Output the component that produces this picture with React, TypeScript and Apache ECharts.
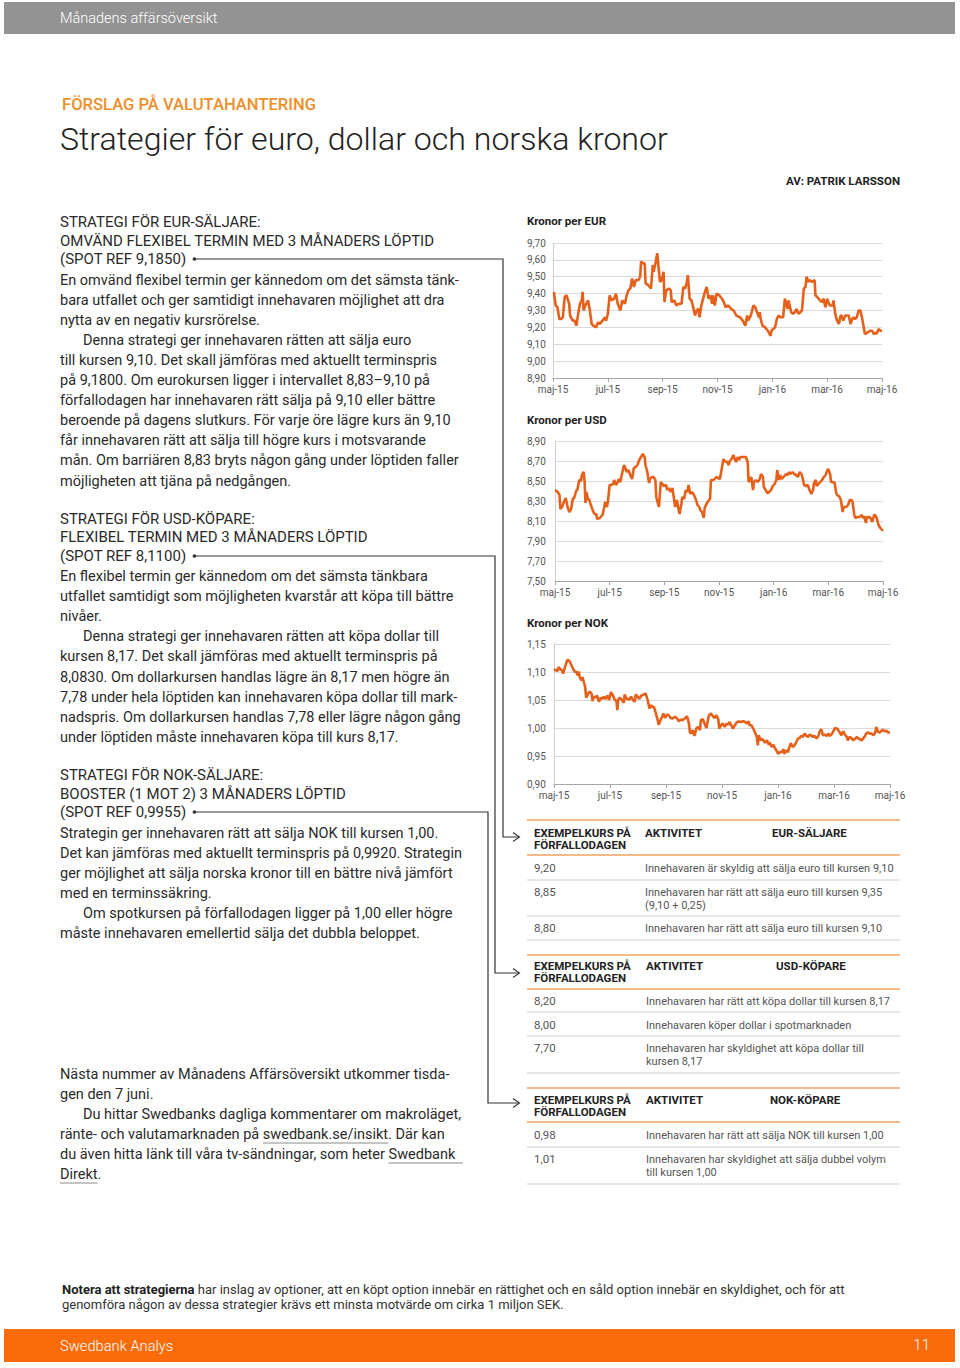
import React, { useEffect, useRef } from "react";
import * as echarts from "echarts";

const FONT = 'Roboto, "Noto Sans", sans-serif';

// ---------- DATA ----------
const monthLabels = ["maj-15", "jul-15", "sep-15", "nov-15", "jan-16", "mar-16", "maj-16"];

const eurDays = [1,3,5,7,9,11,13,15,18,19,22,24,26,28,30,32,33,34,36,39,41,43,45,48,50,52,55,58,59,61,63,65,68,70,72,75,77,80,82,84,86,88,90,92,95,97,98,100,102,103,106,109,111,112,114,116,117,119,121,123,124,126,129,131,132,135,137,140,143,145,147,149,150,152,154,156,158,160,162,163,165,167,169,171,173,175,177,178,180,182,185,188,190,192,195,198,201,204,208,211,214,216,217,220,223,225,227,229,230,231,233,236,239,242,243,245,247,249,251,253,256,258,259,261,262,265,267,269,271,273,275,277,279,281,282,284,286,288,291,292,294,297,299,301,303,305,307,308,311,312,314,316,318,320,321,323,325,327,329,331,333,334,336,338,340,342,344,346,347,350,353,355,357,359,360,362,364,366];
const eurValues = [9.41,9.33,9.32,9.25,9.25,9.26,9.38,9.39,9.34,9.27,9.24,9.24,9.21,9.28,9.34,9.36,9.41,9.30,9.33,9.36,9.30,9.22,9.21,9.20,9.23,9.22,9.24,9.26,9.24,9.28,9.39,9.36,9.37,9.40,9.34,9.30,9.36,9.34,9.39,9.42,9.43,9.49,9.44,9.48,9.48,9.50,9.59,9.58,9.58,9.46,9.45,9.43,9.57,9.53,9.58,9.64,9.58,9.47,9.48,9.53,9.35,9.42,9.43,9.42,9.35,9.36,9.33,9.34,9.34,9.44,9.43,9.47,9.51,9.37,9.36,9.32,9.27,9.30,9.31,9.26,9.33,9.37,9.41,9.44,9.37,9.39,9.34,9.39,9.33,9.40,9.39,9.37,9.35,9.32,9.33,9.31,9.30,9.27,9.26,9.24,9.21,9.27,9.24,9.27,9.33,9.32,9.29,9.26,9.29,9.25,9.21,9.20,9.18,9.15,9.18,9.19,9.20,9.25,9.27,9.26,9.26,9.37,9.35,9.31,9.36,9.29,9.28,9.29,9.31,9.28,9.29,9.30,9.43,9.44,9.50,9.47,9.48,9.47,9.48,9.39,9.38,9.36,9.35,9.37,9.32,9.37,9.34,9.33,9.33,9.36,9.28,9.24,9.22,9.27,9.27,9.24,9.27,9.27,9.27,9.22,9.25,9.26,9.25,9.26,9.30,9.30,9.25,9.19,9.16,9.17,9.18,9.18,9.16,9.17,9.16,9.19,9.18,9.18];

const usdDays = [0,3,5,6,8,9,11,12,14,16,18,20,21,24,25,27,29,30,32,33,34,35,37,38,40,42,44,46,47,50,52,53,55,56,58,59,61,62,65,66,68,70,71,73,74,77,78,80,82,84,86,88,90,92,94,96,98,100,101,103,105,106,108,110,112,113,115,116,118,120,121,124,125,127,129,131,133,134,136,138,139,141,142,144,146,148,149,151,153,155,157,159,161,162,164,166,167,169,171,173,174,177,178,180,182,184,186,188,189,192,194,195,197,199,201,202,204,205,207,209,211,213,215,216,218,219,221,222,224,226,228,230,232,233,235,237,239,241,243,245,247,248,250,251,253,255,258,260,261,263,265,267,269,271,273,275,276,278,280,282,284,286,288,289,291,292,294,296,298,300,302,304,305,307,308,310,312,314,316,317,319,321,322,324,325,327,329,331,332,334,335,337,340,342,344,345,347,348,350,352,354,356,357,359,361,363,366];
const usdValues = [8.41,8.39,8.36,8.22,8.24,8.27,8.31,8.33,8.24,8.19,8.22,8.33,8.32,8.41,8.41,8.51,8.50,8.56,8.59,8.50,8.28,8.39,8.31,8.32,8.26,8.21,8.17,8.17,8.12,8.13,8.15,8.16,8.24,8.29,8.24,8.29,8.46,8.46,8.47,8.51,8.46,8.49,8.52,8.49,8.54,8.66,8.64,8.59,8.61,8.56,8.52,8.63,8.64,8.66,8.71,8.74,8.77,8.74,8.66,8.59,8.48,8.52,8.54,8.54,8.51,8.34,8.27,8.24,8.49,8.47,8.45,8.46,8.41,8.43,8.39,8.43,8.31,8.24,8.31,8.21,8.17,8.27,8.34,8.32,8.41,8.39,8.46,8.37,8.39,8.36,8.32,8.26,8.24,8.21,8.19,8.13,8.23,8.27,8.30,8.32,8.51,8.51,8.52,8.54,8.53,8.52,8.62,8.72,8.70,8.69,8.66,8.70,8.72,8.76,8.71,8.69,8.74,8.71,8.74,8.74,8.74,8.74,8.69,8.49,8.52,8.54,8.41,8.49,8.51,8.49,8.51,8.57,8.54,8.44,8.41,8.38,8.39,8.41,8.45,8.47,8.51,8.61,8.51,8.56,8.52,8.54,8.57,8.56,8.59,8.57,8.59,8.57,8.56,8.54,8.59,8.57,8.54,8.46,8.45,8.46,8.41,8.37,8.41,8.48,8.51,8.45,8.47,8.49,8.51,8.54,8.56,8.61,8.62,8.57,8.49,8.49,8.48,8.37,8.35,8.35,8.31,8.19,8.24,8.24,8.24,8.26,8.31,8.31,8.29,8.16,8.13,8.14,8.14,8.16,8.13,8.15,8.08,8.14,8.14,8.13,8.09,8.16,8.16,8.13,8.06,8.03,8.00];

const nokDays = [0,2,4,5,7,9,10,12,14,15,17,19,21,23,24,26,27,28,30,31,33,34,35,37,39,41,42,43,45,47,49,51,53,54,56,58,60,62,64,66,68,69,70,72,74,76,77,79,81,82,84,86,88,89,91,93,95,97,99,100,102,104,106,107,109,111,113,114,116,118,119,121,123,125,127,129,130,132,134,136,138,140,141,143,145,147,148,149,151,153,155,157,159,160,162,164,166,168,169,171,173,175,177,179,180,182,184,186,188,190,191,193,195,197,199,201,202,204,206,208,210,212,213,215,217,219,221,222,223,225,226,228,230,232,234,235,237,239,241,243,244,246,248,250,251,253,255,256,258,260,262,264,266,267,269,271,273,275,277,278,280,282,284,286,288,289,291,293,295,297,299,300,302,304,306,308,309,311,313,315,317,319,320,322,324,326,328,330,331,333,335,337,339,340,342,344,346,348,350,351,353,355,356,358,360,362,364,366];
const nokValues = [1.105,1.103,1.102,1.109,1.105,1.102,1.097,1.109,1.119,1.122,1.119,1.112,1.105,1.100,1.101,1.094,1.101,1.091,1.085,1.091,1.079,1.073,1.054,1.061,1.065,1.061,1.048,1.056,1.054,1.058,1.047,1.054,1.052,1.056,1.052,1.058,1.050,1.064,1.059,1.051,1.048,1.032,1.051,1.054,1.050,1.045,1.060,1.052,1.052,1.050,1.056,1.050,1.047,1.060,1.056,1.052,1.058,1.059,1.061,1.061,1.050,1.035,1.041,1.038,1.037,1.026,1.014,1.006,1.014,1.021,1.026,1.018,1.024,1.023,1.018,1.017,1.018,1.020,1.017,1.012,1.015,1.014,1.015,1.018,1.021,1.008,0.993,0.990,0.996,0.986,0.999,1.002,0.996,1.014,1.016,1.008,1.000,1.017,1.023,1.026,1.021,1.018,1.023,1.015,0.999,1.005,1.008,1.002,1.008,1.006,1.011,1.005,0.999,1.005,1.010,1.012,1.011,1.011,1.012,1.011,1.008,1.012,1.005,1.005,0.999,0.992,0.984,0.969,0.987,0.978,0.981,0.978,0.974,0.978,0.970,0.974,0.966,0.970,0.963,0.958,0.954,0.957,0.957,0.962,0.954,0.960,0.957,0.964,0.973,0.966,0.969,0.975,0.982,0.981,0.986,0.984,0.990,0.986,0.984,0.988,0.987,0.984,0.986,0.981,0.986,0.992,0.998,0.987,0.988,0.986,0.990,0.986,0.988,0.993,1.000,0.999,0.998,0.993,0.987,0.994,0.988,0.984,0.978,0.984,0.982,0.978,0.981,0.984,0.982,0.980,0.978,0.982,0.986,0.990,0.992,0.990,0.990,0.987,0.992,1.002,0.993,0.992,0.994,0.997,0.994,0.995,0.992,0.992];

const chartTitles = ["Kronor per EUR", "Kronor per USD", "Kronor per NOK"];
const yMins = [8.9, 7.5, 0.9];
const yMaxs = [9.7, 8.9, 1.15];
const yIntervals = [0.1, 0.2, 0.05];

// ---------- TEXT CONTENT ----------
const leftLines: { y: number; t: string; k: "h" | "b"; ind?: boolean }[] = [
  { y: 222, t: "STRATEGI FÖR EUR-SÄLJARE:", k: "h" },
  { y: 241, t: "OMVÄND FLEXIBEL TERMIN MED 3 MÅNADERS LÖPTID", k: "h" },
  { y: 259, t: "(SPOT REF 9,1850)", k: "h" },
  { y: 280, t: "En omvänd flexibel termin ger kännedom om det sämsta tänk-", k: "b" },
  { y: 300, t: "bara utfallet och ger samtidigt innehavaren möjlighet att dra", k: "b" },
  { y: 320, t: "nytta av en negativ kursrörelse.", k: "b" },
  { y: 340, t: "Denna strategi ger innehavaren rätten att sälja euro", k: "b", ind: true },
  { y: 360, t: "till kursen 9,10. Det skall jämföras med aktuellt terminspris", k: "b" },
  { y: 380, t: "på 9,1800. Om eurokursen ligger i intervallet 8,83–9,10 på", k: "b" },
  { y: 400, t: "förfallodagen har innehavaren rätt sälja på 9,10 eller bättre", k: "b" },
  { y: 420, t: "beroende på dagens slutkurs. För varje öre lägre kurs än 9,10", k: "b" },
  { y: 440, t: "får innehavaren rätt att sälja till högre kurs i motsvarande", k: "b" },
  { y: 460, t: "mån. Om barriären 8,83 bryts någon gång under löptiden faller", k: "b" },
  { y: 481, t: "möjligheten att tjäna på nedgången.", k: "b" },
  { y: 519, t: "STRATEGI FÖR USD-KÖPARE:", k: "h" },
  { y: 537, t: "FLEXIBEL TERMIN MED 3 MÅNADERS LÖPTID", k: "h" },
  { y: 556, t: "(SPOT REF 8,1100)", k: "h" },
  { y: 576, t: "En flexibel termin ger kännedom om det sämsta tänkbara", k: "b" },
  { y: 596, t: "utfallet samtidigt som möjligheten kvarstår att köpa till bättre", k: "b" },
  { y: 616, t: "nivåer.", k: "b" },
  { y: 636, t: "Denna strategi ger innehavaren rätten att köpa dollar till", k: "b", ind: true },
  { y: 656, t: "kursen 8,17. Det skall jämföras med aktuellt terminspris på", k: "b" },
  { y: 677, t: "8,0830. Om dollarkursen handlas lägre än 8,17 men högre än", k: "b" },
  { y: 697, t: "7,78 under hela löptiden kan innehavaren köpa dollar till mark-", k: "b" },
  { y: 717, t: "nadspris. Om dollarkursen handlas 7,78 eller lägre någon gång", k: "b" },
  { y: 737, t: "under löptiden måste innehavaren köpa till kurs 8,17.", k: "b" },
  { y: 775, t: "STRATEGI FÖR NOK-SÄLJARE:", k: "h" },
  { y: 794, t: "BOOSTER (1 MOT 2) 3 MÅNADERS LÖPTID", k: "h" },
  { y: 812, t: "(SPOT REF 0,9955)", k: "h" },
  { y: 833, t: "Strategin ger innehavaren rätt att sälja NOK till kursen 1,00.", k: "b" },
  { y: 853, t: "Det kan jämföras med aktuellt terminspris på 0,9920. Strategin", k: "b" },
  { y: 873, t: "ger möjlighet att sälja norska kronor till en bättre nivå jämfört", k: "b" },
  { y: 893, t: "med en terminssäkring.", k: "b" },
  { y: 913, t: "Om spotkursen på förfallodagen ligger på 1,00 eller högre", k: "b", ind: true },
  { y: 933, t: "måste innehavaren emellertid sälja det dubbla beloppet.", k: "b" },
  { y: 1074, t: "Nästa nummer av Månadens Affärsöversikt utkommer tisda-", k: "b" },
  { y: 1094, t: "gen den 7 juni.", k: "b" },
  { y: 1114, t: "Du hittar Swedbanks dagliga kommentarer om makroläget,", k: "b", ind: true },
  { y: 1134, t: "ränte- och valutamarknaden på swedbank.se/insikt. Där kan", k: "b" },
  { y: 1154, t: "du även hitta länk till våra tv-sändningar, som heter Swedbank ", k: "b" },
  { y: 1174, t: "Direkt.", k: "b" },
];

const tables = [
  {
    title: "EUR-SÄLJARE", titleX: 772, actX: 645, top: 820, headY: 833, headLine: 855,
    rows: [
      { y: 868, ex: "9,20", lines: ["Innehavaren är skyldig att sälja euro till kursen 9,10"], line: 880 },
      { y: 892, ex: "8,85", lines: ["Innehavaren har rätt att sälja euro till kursen 9,35", "(9,10 + 0,25)"], line: 916 },
      { y: 928, ex: "8,80", lines: ["Innehavaren har rätt att sälja euro till kursen 9,10"], line: 940 },
    ],
  },
  {
    title: "USD-KÖPARE", titleX: 776, actX: 646, top: 955, headY: 966, headLine: 989,
    rows: [
      { y: 1001, ex: "8,20", lines: ["Innehavaren har rätt att köpa dollar till kursen 8,17"], line: 1012 },
      { y: 1025, ex: "8,00", lines: ["Innehavaren köper dollar i spotmarknaden"], line: 1036 },
      { y: 1048, ex: "7,70", lines: ["Innehavaren har skyldighet att köpa dollar till", "kursen 8,17"], line: 1073 },
    ],
  },
  {
    title: "NOK-KÖPARE", titleX: 770, actX: 646, top: 1088, headY: 1100, headLine: 1122,
    rows: [
      { y: 1135, ex: "0,98", lines: ["Innehavaren har rätt att sälja NOK till kursen 1,00"], line: 1147 },
      { y: 1159, ex: "1,01", lines: ["Innehavaren har skyldighet att sälja dubbel volym", "till kursen 1,00"], line: 1184 },
    ],
  },
];

// ---------- HELPERS ----------
let measureCtx: CanvasRenderingContext2D | null = null;
function measure(text: string, size: number, weight: number | string = 400) {
  if (!measureCtx) measureCtx = document.createElement("canvas").getContext("2d");
  measureCtx!.font = `${weight} ${size}px ${FONT}`;
  return measureCtx!.measureText(text).width;
}

function T(x: number, y: number, text: string, size: number, o: any = {}) {
  return {
    type: "text", x, y, silent: true, z: 10,
    style: {
      text, fill: o.fill || "#333", fontSize: size, fontFamily: FONT,
      fontWeight: o.weight || 400, textAlign: o.align || "left", textVerticalAlign: "middle",
    },
  };
}
function L(x1: number, y1: number, x2: number, y2: number, color: string, w = 1) {
  return { type: "line", silent: true, z: 5, shape: { x1, y1, x2, y2 }, style: { stroke: color, lineWidth: w } };
}

const fmt = (v: number) => v.toFixed(2).replace(".", ",");

export default function App() {
  const ref = useRef<HTMLDivElement>(null);
  useEffect(() => {
    document.body.style.margin = "0";
    const chart = echarts.init(ref.current!, null, { renderer: "svg" });

    const BODY = 14.5, HEAD = 15;
    const g: any[] = [];
    // header bar
    g.push({ type: "rect", silent: true, shape: { x: 4, y: 2, width: 951, height: 32 }, style: { fill: "#939393" } });
    g.push(T(60, 18, "Månadens affärsöversikt", 14.5, { fill: "#fff", weight: 300 }));
    g.push(T(62, 104, "FÖRSLAG PÅ VALUTAHANTERING", 16.6, { fill: "#ee8e2a", weight: 500 }));
    g.push(T(60, 139, "Strategier för euro, dollar och norska kronor", 32.1, { fill: "#222", weight: 300 }));
    g.push(T(900, 181, "AV: PATRIK LARSSON", 11.5, { fill: "#222", weight: 700, align: "right" }));

    leftLines.forEach((l) => {
      const size = l.k === "h" ? HEAD : BODY;
      g.push(T(l.ind ? 83 : 60, l.y, l.t, size, { fill: "#2a2a2a" }));
    });

    // underlines for links
    const ulY1 = 1134 + 9;
    const pre1 = measure("ränte- och valutamarknaden på ", BODY);
    const w1 = measure("swedbank.se/insikt", BODY);
    g.push(L(60 + pre1, ulY1, 60 + pre1 + w1, ulY1, "#8a8a8a", 1));
    const pre2 = measure("du även hitta länk till våra tv-sändningar, som heter ", BODY);
    const w2 = measure("Swedbank ", BODY);
    g.push(L(60 + pre2, 1154 + 9, 60 + pre2 + w2 + 4, 1154 + 9, "#8a8a8a", 1));
    const w3 = measure("Direkt", BODY);
    g.push(L(60, 1174 + 9, 60 + w3, 1174 + 9, "#8a8a8a", 1));

    // connectors
    const conns = [
      { y: 259, text: "(SPOT REF 9,1850)", vx: 503, ay: 837 },
      { y: 556, text: "(SPOT REF 8,1100)", vx: 495, ay: 973 },
      { y: 812, text: "(SPOT REF 0,9955)", vx: 488, ay: 1103 },
    ];
    conns.forEach((c) => {
      const dx = 60 + measure(c.text, HEAD) + 8;
      g.push({ type: "circle", silent: true, shape: { cx: dx, cy: c.y, r: 1.8 }, style: { fill: "#333" } });
      g.push({ type: "polyline", silent: true, shape: { points: [[dx, c.y], [c.vx, c.y], [c.vx, c.ay], [519, c.ay]] }, style: { stroke: "#333", lineWidth: 1.2, fill: null } });
      g.push({ type: "polyline", silent: true, shape: { points: [[513, c.ay - 4.5], [519.5, c.ay], [513, c.ay + 4.5]] }, style: { stroke: "#333", lineWidth: 1.1, fill: null } });
    });

    // tables
    const ORANGE = "#f0a262", GRAY = "#cdcdcd";
    tables.forEach((tb) => {
      g.push(L(527, tb.top, 900, tb.top, ORANGE, 1.3));
      g.push(T(534, tb.headY, "EXEMPELKURS PÅ", 11.5, { fill: "#222", weight: 700 }));
      g.push(T(534, tb.headY + 12, "FÖRFALLODAGEN", 11.5, { fill: "#222", weight: 700 }));
      g.push(T(tb.actX, tb.headY, "AKTIVITET", 11.5, { fill: "#222", weight: 700 }));
      g.push(T(tb.titleX, tb.headY, tb.title, 11.5, { fill: "#222", weight: 700 }));
      g.push(L(527, tb.headLine, 900, tb.headLine, ORANGE, 1.3));
      tb.rows.forEach((r) => {
        g.push(T(534, r.y, r.ex, 11.5, { fill: "#555" }));
        r.lines.forEach((ln, i) => g.push(T(tb.actX, r.y + i * 13, ln, 11, { fill: "#555" })));
        g.push(L(527, r.line, 900, r.line, GRAY, 1));
      });
    });

    // footer
    const boldPart = "Notera att strategierna";
    const FS = 13;
    g.push(T(62, 1289, boldPart, FS, { fill: "#222", weight: 700 }));
    g.push(T(62 + measure(boldPart + " ", FS, 700), 1289, "har inslag av optioner, att en köpt option innebär en rättighet och en såld option innebär en skyldighet, och för att", FS, { fill: "#333" }));
    g.push(T(62, 1304, "genomföra någon av dessa strategier krävs ett minsta motvärde om cirka 1 miljon SEK.", FS, { fill: "#333" }));
    g.push({ type: "rect", silent: true, shape: { x: 4, y: 1329, width: 951, height: 33 }, style: { fill: "#fa6b0a" } });
    g.push(T(60, 1346, "Swedbank Analys", 14.7, { fill: "#fff", weight: 300 }));
    g.push(T(930, 1345, "11", 15, { fill: "#fff", weight: 300, align: "right" }));

    // chart titles
    const titleYs = [221, 420, 623];
    chartTitles.forEach((t, i) => g.push(T(527, titleYs[i], t, 11.5, { fill: "#222", weight: 700 })));

    // chart grids
    const grids = [
      { left: 553, right: 960 - 882, top: 243, bottom: 1368 - 378 },
      { left: 555, right: 960 - 883, top: 441, bottom: 1368 - 581 },
      { left: 554, right: 960 - 890, top: 644, bottom: 1368 - 784 },
    ];
    const dataSets = [
      eurDays.map((d, i) => [d, eurValues[i]]),
      usdDays.map((d, i) => [d, usdValues[i]]),
      nokDays.map((d, i) => [d, nokValues[i]]),
    ];

    chart.setOption({
      animation: false,
      grid: grids.map((gr) => ({ ...gr, containLabel: false })),
      xAxis: grids.map((gr, i) => ({
        type: "value", gridIndex: i, min: 0, max: 366, interval: 61,
        axisLine: { show: true, lineStyle: { color: "#a6a6a6", width: 1 } },
        axisTick: { show: true, length: 4, lineStyle: { color: "#a6a6a6" } },
        splitLine: { show: false },
        axisLabel: {
          fontSize: 10, color: "#555", fontFamily: FONT, margin: 6,
          formatter: (v: number) => monthLabels[Math.round(v / 61)] || "",
        },
      })),
      yAxis: grids.map((gr, i) => ({
        type: "value", gridIndex: i, min: yMins[i], max: yMaxs[i], interval: yIntervals[i],
        axisLine: { show: true, lineStyle: { color: "#cfcfcf" } },
        axisTick: { show: false },
        splitLine: { show: true, lineStyle: { color: "#dadada", width: 1 } },
        axisLabel: {
          fontSize: 10, color: "#555", fontFamily: FONT, align: "left",
          margin: gr.left - 527, formatter: fmt,
        },
      })),
      series: dataSets.map((d, i) => ({
        type: "line", xAxisIndex: i, yAxisIndex: i, data: d, showSymbol: false,
        lineStyle: { color: "#e5611b", width: 2.6 }, itemStyle: { color: "#e5611b" },
      })),
      graphic: { elements: g },
    });
    return () => chart.dispose();
  }, []);
  return <div ref={ref} style={{ width: 960, height: 1368 }} />;
}
